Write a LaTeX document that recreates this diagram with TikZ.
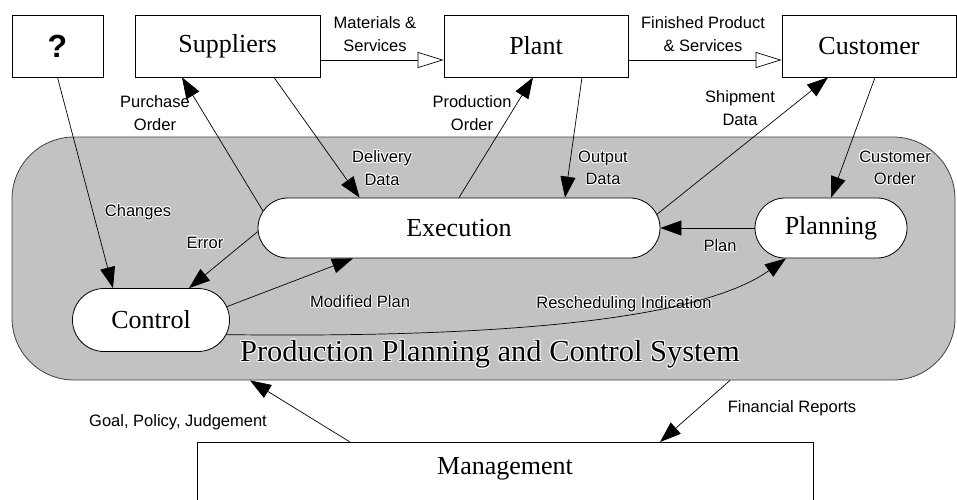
\documentclass[tikz,border=0pt]{standalone}
\usepackage{fontspec}
\setmainfont{Liberation Serif}
\setsansfont{Liberation Sans}
\usetikzlibrary{arrows.meta,shapes.misc}
\definecolor{sysgray}{RGB}{194,194,194}

% label with a thin white halo, for text lying on the grey system area
\newcommand\glabel[4][lbl]{%
  \coordinate (#2-at) at (#3);
  \foreach \hx/\hy [count=\hk] in {0.9/0,-0.9/0,0/0.9,0/-0.9,0.7/0.7,-0.7/0.7,0.7/-0.7,-0.7/-0.7}
    \node[#1,text=white] (#2-halo\hk) at ([shift={(\hx pt,\hy pt)}]#2-at) {#4};
  \node[#1] (#2) at (#2-at) {#4};
}

\begin{document}
\begin{tikzpicture}[x=1pt,y=-1pt,
  box/.style={draw,line width=0.8pt,fill=white,rectangle,inner sep=0pt,
    font=\fontsize{26}{28}\selectfont},
  proc/.style={draw,line width=0.8pt,fill=white,rounded rectangle,inner sep=0pt,
    font=\fontsize{26}{28}\selectfont},
  sysbox/.style={draw=black!75,line width=0.8pt,fill=sysgray,rounded corners=62pt,inner sep=0pt},
  lbl/.style={font=\sffamily\fontsize{16.5}{22.5}\selectfont,align=center,inner sep=0pt},
  ttl/.style={font=\fontsize{30.5}{33}\selectfont,inner sep=0pt},
  flow/.style={line width=0.7pt,-{Triangle[length=21pt,width=15pt]}},
  goods/.style={line width=0.7pt,-{Triangle[open,length=26pt,width=16pt,fill=white]}},
]
\useasboundingbox[fill=white] (0,0) rectangle (957,499);

% production planning and control system area
\node[sysbox,minimum width=943pt,minimum height=243pt] (sys) at (483.5,258.5) {};
\glabel[ttl]{title}{490,354}{Production Planning and Control System}

% activities inside the system
\node[proc,minimum width=402pt,minimum height=60pt] (exec) at (459,228) {Execution};
\node[proc,minimum width=152pt,minimum height=60pt] (plan) at (831,228) {Planning};
\node[proc,minimum width=157pt,minimum height=63pt] (ctrl) at (151,320) {Control};

% outside parties
\node[box,minimum width=91pt,minimum height=62pt,font=\sffamily\bfseries\fontsize{32}{34}\selectfont] (q) at (57.5,46) {?};
\node[box,minimum width=185pt,minimum height=62pt] (sup) at (227.5,46) {Suppliers};
\node[box,minimum width=184pt,minimum height=62pt] (plant) at (536,46) {Plant};
\node[box,minimum width=174pt,minimum height=62pt] (cust) at (869,46) {Customer};
\node[box,minimum width=616pt,minimum height=80pt,anchor=north,text depth=33pt] (mgmt) at (505,442) {Management};

% labels outside the grey area
\node[lbl] (lmat) at (375,34) {Materials \&\\Services};
\node[lbl] (lfin) at (703,34) {Finished Product\\\& Services};
\node[lbl] (lpur) at (155,113) {Purchase\\Order};
\node[lbl] (lpro) at (472,113) {Production\\Order};
\node[lbl] (lshp) at (740,108) {Shipment\\Data};
\node[lbl] (lgoal) at (178,422) {Goal, Policy, Judgement};
\node[lbl] (lfinr) at (792,408) {Financial Reports};

% labels on the grey area
\glabel{ldel}{382,168}{Delivery\\Data}
\glabel{lout}{603,168}{Output\\Data}
\glabel{lcor}{895,168}{Customer\\Order}
\glabel{lchg}{138,212}{Changes}
\glabel{lerr}{205,243}{Error}
\glabel{lplan}{720,246}{Plan}
\glabel{lmod}{360,302}{Modified Plan}
\glabel{lres}{624,304}{Rescheduling Indication}

% flows of goods
\draw[goods] ([yshift=-14pt]sup.east) -- ([yshift=-14pt]plant.west);
\draw[goods] ([yshift=-14pt]plant.east) -- ([yshift=-14pt]cust.west);

% information flows
\draw[flow] (q.south) -- (ctrl.140.8);
\draw[flow] (exec.175.7) -- ([xshift=-45.5pt]sup.south);
\draw[flow] ([xshift=46.5pt]sup.south) -- (exec.163.1);
\draw[flow] (exec.north) -- ([xshift=-3pt]plant.south);
\draw[flow] ([xshift=46pt]plant.south) -- (exec.16.5);
\draw[flow] (exec.4.3) -- ([xshift=-41pt]cust.south);
\draw[flow] ([xshift=6pt]cust.south) -- (plan.north);
\draw[flow] (plan.west) -- (exec.east);
\draw[flow] (exec.181) -- (ctrl.40.4);
\draw[flow] (ctrl.10.8) -- (exec.196.1);
\draw[flow] (ctrl.349.2) .. controls (500,338) and (700,320) .. (plan.214.9);
\draw[flow] ([xshift=-155pt]mgmt.north) -- ([xshift=-233.5pt]sys.south);
\draw[flow] ([xshift=246.5pt]sys.south) -- ([xshift=155pt]mgmt.north);
\end{tikzpicture}
\end{document}
